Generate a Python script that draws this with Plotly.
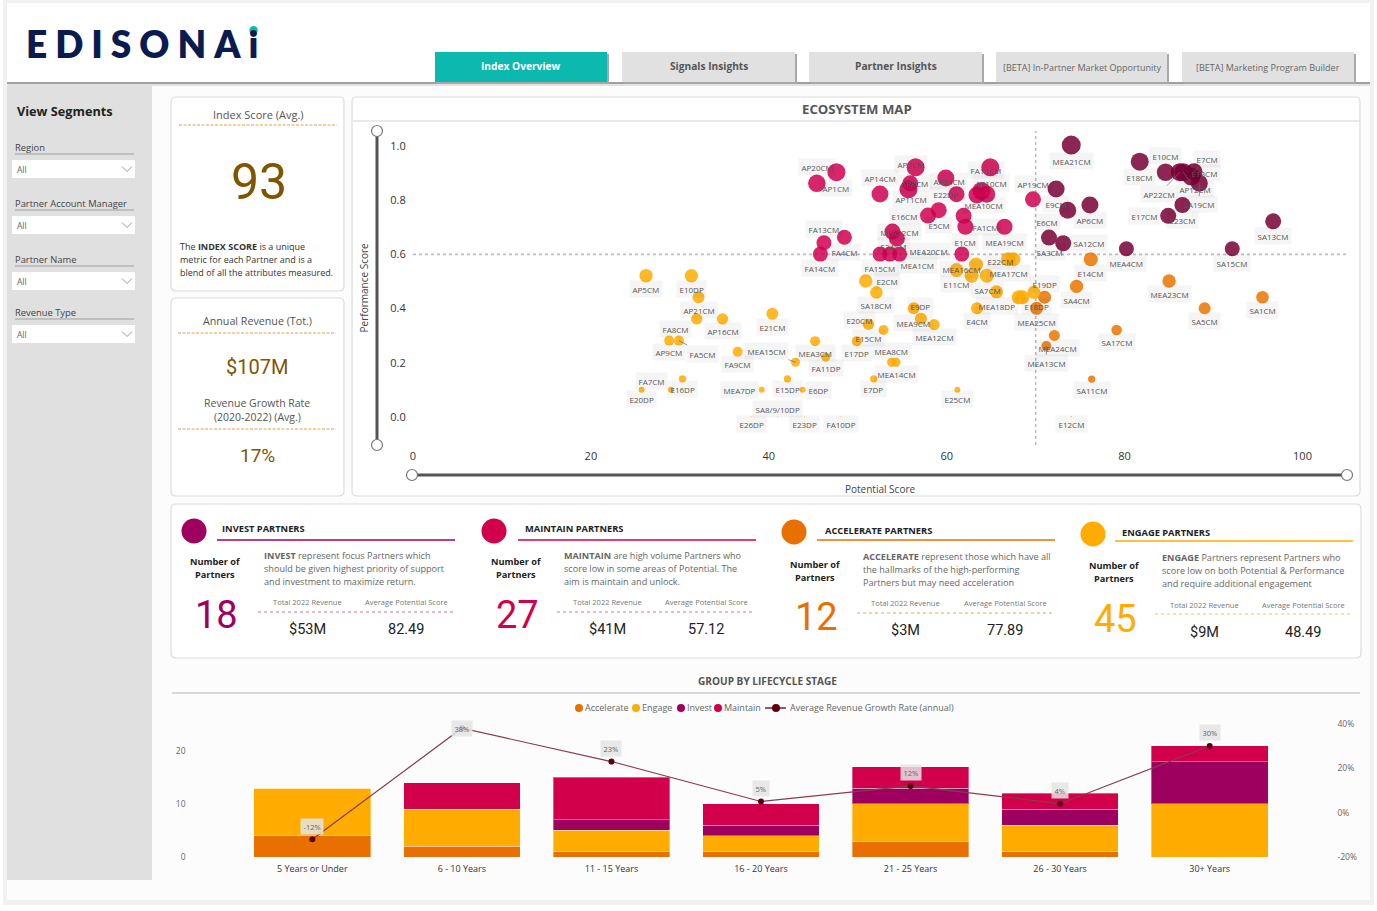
# %%
import plotly.graph_objects as go

W, H = 1377, 911

# %%
# Ecosystem map: name, potential score, performance score, bubble diameter
invest_names = ['MEA21CM', 'E18CM', 'E10CM', 'E7CM', 'E13CM', 'AP22CM', 'AP12CM', 'SA19CM', 'E23CM',
                'E17CM', 'E9CM', 'E6CM', 'AP6CM', 'SA3CM', 'SA12CM', 'MEA4CM', 'SA13CM', 'SA15CM']
invest_potential = [74.0, 81.7, 84.6, 87.8, 87.5, 86.2, 86.6, 88.4, 86.5,
                    84.9, 72.3, 73.6, 76.1, 71.5, 73.1, 80.2, 96.7, 92.1]
invest_performance = [1.003, 0.942, 0.903, 0.905, 0.887, 0.903, 0.903, 0.862, 0.782,
                      0.742, 0.841, 0.763, 0.782, 0.662, 0.641, 0.621, 0.722, 0.621]
invest_bubble = [19, 18, 17.5, 17, 18, 18, 18, 17, 16, 16, 17, 17, 17, 16, 16, 15, 16, 15]

maintain_names = ['AP20CM', 'AP1CM', 'AP14CM', 'FA13CM', 'FA4CM', 'FA14CM', 'FA15CM', 'AP7CM', 'AP8CM',
                  'AP11CM', 'AP24CM', 'E22DP', 'FA11CM', 'AP10CM', 'MEA10CM', '', 'AP19CM', 'E16CM',
                  'E5CM', 'FA1CM', 'E1CM', 'MEA19CM', 'MEA22CM', 'E24CM', 'MEA1CM', 'MEA20CM', '']
maintain_potential = [45.4, 47.6, 52.5, 46.2, 48.5, 45.8, 52.5, 56.5, 55.9,
                      55.7, 59.9, 61.1, 64.9, 64.5, 63.4, 63.9, 69.7, 57.9,
                      59.1, 61.9, 62.1, 66.5, 53.9, 54.4, 53.6, 54.7, 61.7]
maintain_performance = [0.862, 0.903, 0.823, 0.643, 0.663, 0.601, 0.601, 0.921, 0.862,
                        0.840, 0.882, 0.822, 0.921, 0.822, 0.819, 0.834, 0.803, 0.743,
                        0.763, 0.742, 0.702, 0.702, 0.684, 0.659, 0.601, 0.601, 0.601]
maintain_bubble = [17.5, 18, 17, 15, 15, 15, 15, 18, 16, 18, 17, 16, 18, 17, 17, 18, 16, 16,
                   16, 16, 16, 16, 16, 16, 15, 15, 15]

accelerate_names = ['E14CM', 'SA4CM', 'MEA23CM', 'SA5CM', 'SA1CM', 'SA17CM', 'E18DP', 'MEA25CM',
                    'MEA24CM', 'MEA13CM', 'SA11CM', 'E12CM']
accelerate_potential = [76.2, 74.6, 85.0, 89.0, 95.5, 79.1, 71.0, 70.1, 72.1, 71.2, 76.3, 74.0]
accelerate_performance = [0.582, 0.482, 0.502, 0.401, 0.442, 0.321, 0.442, 0.401, 0.301, 0.262, 0.140, 0.001]
accelerate_bubble = [14, 13.4, 13.4, 12, 12.6, 10.6, 13, 13, 11, 10, 7.4, 1]

engage_names = ['MEA17CM', 'E22CM', 'MEA16CM', 'E11CM', '', '', 'SA7CM', 'MEA18DP', '', 'E4CM', 'E19DP',
                'E9DP', 'MEA9CM', 'MEA12CM', 'E25CM', 'E10DP', 'AP5CM', 'AP21CM', 'FA8CM', 'AP16CM',
                'FA5CM', 'AP9CM', 'E21CM', 'FA9CM', 'MEA15CM', 'MEA3CM', 'FA11DP', 'E17DP', 'E20CM',
                'E15CM', 'SA18CM', 'E2CM', 'MEA8CM', 'MEA14CM', 'E7DP', 'E6DP', 'E15DP', 'MEA7DP',
                'E16DP', 'FA7CM', 'E20DP', 'SA8/9/10DP', 'E26DP', 'E23DP', 'FA10DP']
engage_potential = [66.9, 67.5, 63.3, 61.1, 62.8, 64.5, 65.6, 68.1, 68.5, 63.4, 69.8,
                    56.3, 57.1, 58.6, 61.2, 31.3, 26.2, 32.1, 31.9, 34.8,
                    29.9, 28.8, 40.4, 36.5, 43.0, 45.2, 46.4, 49.9, 51.2,
                    52.9, 52.1, 50.9, 53.8, 54.3, 51.8, 43.8, 42.1, 39.2,
                    30.3, 29.0, 25.7, 41.0, 38.0, 44.0, 48.1]
engage_performance = [0.582, 0.582, 0.563, 0.542, 0.521, 0.521, 0.462, 0.442, 0.442, 0.401, 0.460,
                      0.401, 0.363, 0.341, 0.101, 0.521, 0.521, 0.442, 0.362, 0.362,
                      0.282, 0.282, 0.381, 0.241, 0.202, 0.280, 0.221, 0.280, 0.342,
                      0.321, 0.460, 0.502, 0.202, 0.202, 0.141, 0.101, 0.141, 0.101,
                      0.141, 0.101, 0.101, 0.001, 0.001, 0.001, 0.001]
engage_bubble = [14, 14, 14, 14, 14, 14, 13, 14, 14, 12, 13,
                 12, 12, 11, 6, 13.4, 13.4, 12, 11.4, 11.4,
                 10, 10, 12, 10, 9, 10, 9, 10, 11.4,
                 10, 12.6, 13.4, 9, 9, 7.4, 6, 7.4, 6,
                 7.4, 6, 6, 1, 1, 1, 1]

# %%
# Lifecycle chart
stages = ['5 Years or Under', '6 - 10 Years', '11 - 15 Years', '16 - 20 Years',
          '21 - 25 Years', '26 - 30 Years', '30+ Years']
accelerate_count = [4, 2, 1, 1, 3, 1, 0]
engage_count = [9, 7, 4, 3, 7, 5, 10]
invest_count = [0, 0, 2, 2, 3, 3, 8]
maintain_count = [0, 5, 8, 4, 4, 3, 3]
growth_rate = [-12, 38, 23, 5, 12, 4, 30]

# %%
# Label placement in pixels from the bubble centre; anything missing sits under its bubble
label_offsets = {
    'AP20CM': (0, -16), 'E10CM': (0, -16), 'E7CM': (13, -13), 'E13CM': (13, -4), 'AP22CM': (-21, 22),
    'AP12CM': (12, 17), 'SA19CM': (0, 21), 'E17CM': (-24, 0), 'E6CM': (-21, 12), 'SA12CM': (26, 0),
    'AP14CM': (0, -16), 'FA13CM': (0, -14), 'AP7CM': (-5, -3), 'AP8CM': (5, 0), 'AP11CM': (3, 10),
    'AP24CM': (3, 3), 'E22DP': (-11, 0), 'FA11CM': (-4, 3), 'AP10CM': (4, -11), 'MEA10CM': (7, 10),
    'AP19CM': (0, -15), 'E16CM': (-24, 0), 'FA1CM': (22, 11), 'MEA22CM': (7, 0), 'E24CM': (-3, 8),
    'MEA20CM': (29, -3), 'MEA1CM': (28, 11), 'E18DP': (-8, 9), 'MEA24CM': (3, 13), 'MEA13CM': (0, 17),
    'E22CM': (-13, 2), 'MEA16CM': (-15, 5), 'SA7CM': (-9, -2), 'MEA18DP': (-22, 9), 'E19DP': (11, -8),
    'E9DP': (7, -2), 'MEA9CM': (-7, 4), 'FA8CM': (-21, 10), 'FA5CM': (24, 13), 'MEA15CM': (-29, -11),
    'E20CM': (-9, -4), 'E15CM': (-15, 8), 'E2CM': (21, 0), 'MEA8CM': (0, -11), 'E6DP': (16, 0),
    'MEA7DP': (-22, 0), 'FA7CM': (-19, -9), 'SA8/9/10DP': (0, -8),
}
leader_labels = ['E7CM', 'AP22CM', 'AP12CM', 'SA19CM', 'AP10CM', 'E24CM', 'MEA13CM', 'FA5CM', 'MEA15CM']

INVEST, MAINTAIN, ACCELERATE, ENGAGE = '#9e0060', '#d2004b', '#e87000', '#ffab00'
BROWN = '#7f5500'
FONT = 'Open Sans'
NARROW = 'Roboto'
SHORT_DASH = '3px,1.5px'

shapes = []
annotations = []


# %%
def px(x):
    return x / W


def py(y):
    return 1 - y / H


def rect(x0, y0, x1, y1, fill, line=None, lw=1):
    shapes.append(dict(type='rect', xref='paper', yref='paper', x0=px(x0), x1=px(x1), y0=py(y0), y1=py(y1),
                       fillcolor=fill, line=dict(color=line, width=lw) if line else dict(width=0), layer='below'))


def card(x0, y0, x1, y1, r=5):
    path = (f'M {px(x0 + r)} {py(y0)} L {px(x1 - r)} {py(y0)} Q {px(x1)} {py(y0)} {px(x1)} {py(y0 + r)} '
            f'L {px(x1)} {py(y1 - r)} Q {px(x1)} {py(y1)} {px(x1 - r)} {py(y1)} '
            f'L {px(x0 + r)} {py(y1)} Q {px(x0)} {py(y1)} {px(x0)} {py(y1 - r)} '
            f'L {px(x0)} {py(y0 + r)} Q {px(x0)} {py(y0)} {px(x0 + r)} {py(y0)} Z')
    shapes.append(dict(type='path', xref='paper', yref='paper', path=path, fillcolor='white',
                       line=dict(color='#dcdcdc', width=1.2), layer='below'))


def hline(x0, x1, y, color, lw=1, dash='solid'):
    shapes.append(dict(type='line', xref='paper', yref='paper', x0=px(x0), x1=px(x1), y0=py(y), y1=py(y),
                       line=dict(color=color, width=lw, dash=dash), layer='below'))


def circle(cx, cy, r, fill, line=None, lw=1, layer='below'):
    shapes.append(dict(type='circle', xref='paper', yref='paper', x0=px(cx - r), x1=px(cx + r),
                       y0=py(cy + r), y1=py(cy - r), fillcolor=fill,
                       line=dict(color=line, width=lw) if line else dict(width=0), layer=layer))


def txt(x, y, text, size=10, color='#555555', anchor='center', family=FONT, angle=0):
    # annotations sit a touch low, lift them slightly
    annotations.append(dict(xref='paper', yref='paper', x=px(x), y=py(y - 0.6), text=text, showarrow=False,
                            xanchor=anchor, yanchor='middle', textangle=angle,
                            font=dict(size=size, color=color, family=family)))


def chevron(x, y):
    path = f'M {px(x - 5)} {py(y - 2.5)} L {px(x)} {py(y + 2.5)} L {px(x + 5)} {py(y - 2.5)}'
    shapes.append(dict(type='path', xref='paper', yref='paper', path=path,
                       line=dict(color='#999999', width=1), layer='below'))


# %%
# Page, header and tabs
rect(3, 0, 1374, 905, '#f1f1f1')
rect(7, 3, 1370, 900, '#fcfcfc')
rect(7, 3, 1370, 82, 'white')
rect(7, 82, 1370, 84, '#a0a0a0')
rect(7, 84, 1370, 86, '#e2e2e2')
rect(7, 84, 152, 880, '#e0e0e0')

annotations.append(dict(xref='paper', yref='paper', x=px(24), y=py(43), showarrow=False, xanchor='left',
                        yanchor='middle',
                        text='<span style="letter-spacing:8px">EDISONAi</span>',
                        font=dict(size=37, color='#0b1a4f', family='Lato', weight=800)))

tabs = [(435, 607, 'Index Overview'), (622, 795, 'Signals Insights'), (809, 982, 'Partner Insights'),
        (996, 1167, '[BETA] In-Partner Market Opportunity'), (1182, 1354, '[BETA] Marketing Program Builder')]
for i, (x0, x1, label) in enumerate(tabs):
    rect(x0 + 2, 54, x1 + 2, 84, '#a8a8a8')
    rect(x0, 52, x1, 82, '#0bb9ae' if i == 0 else '#e1e1e1')
    if i < 3:
        txt((x0 + x1) / 2, 67, f'<b>{label}</b>', 10.2, 'white' if i == 0 else '#555555')
    else:
        txt((x0 + x1) / 2, 68, label, 9, '#666666')

# %%
# Sidebar
txt(15, 112, '<b>View Segments</b>', 12.7, '#222222', 'left')
for label, y in [('Region', 148), ('Partner Account Manager', 204), ('Partner Name', 260), ('Revenue Type', 313)]:
    txt(13, y, label, 9.4, '#444444', 'left')
    hline(15, 134, y + 6, '#b5b5b5', 1.6)
    rect(12, y + 12, 135, y + 30, 'white')
    txt(15, y + 22, 'All', 8.5, '#666666', 'left')
    chevron(127, y + 21)

# %%
# KPI cards
card(171, 97, 344, 291)
txt(258, 115, 'Index Score (Avg.)', 11)
hline(179, 337, 125, '#ee9a4d', 1, SHORT_DASH)
txt(259, 183, '93', 50, BROWN, family=NARROW)
txt(178, 247, 'The <b>INDEX SCORE</b> is a unique', 9, '#333333', 'left')
txt(178, 260, 'metric for each Partner and is a', 9, '#333333', 'left')
txt(178, 273, 'blend of all the attributes measured.', 9, '#333333', 'left')

card(171, 298, 344, 496)
txt(257, 322, 'Annual Revenue (Tot.)', 10.7)
hline(178, 336, 333, '#ee9a4d', 1, SHORT_DASH)
txt(257, 368, '$107M', 20, BROWN, family=NARROW)
txt(257, 404, 'Revenue Growth Rate', 10.5)
txt(257, 418, '(2020-2022) (Avg.)', 10.5)
hline(178, 336, 429, '#ee9a4d', 1, SHORT_DASH)
txt(257, 456, '17%', 19, BROWN, family=NARROW)

# %%
# Ecosystem map frame
card(352, 97, 1360, 496)
hline(353, 1360, 121, '#e2e2e2', 1.5)
txt(857, 110, '<b>ECOSYSTEM MAP</b>', 13.2)
shapes.append(dict(type='line', xref='x', yref='y', x0=0, x1=105, y0=0.6, y1=0.6,
                   line=dict(color='#bdbdbd', width=1.6, dash='dot'), layer='below'))
shapes.append(dict(type='line', xref='x', yref='y', x0=70, x1=70, y0=-0.103, y1=1.055,
                   line=dict(color='#bdbdbd', width=1.6, dash='dot'), layer='below'))
shapes.append(dict(type='line', xref='paper', yref='paper', x0=px(377), x1=px(377), y0=py(131), y1=py(445),
                   line=dict(color='#555555', width=3), layer='below'))
hline(412, 1347, 475, '#555555', 3)
for hx, hy in [(377, 131), (377, 445), (412, 475), (1347, 475)]:
    circle(hx, hy, 5.5, 'white', '#777777', 1.2)
txt(880, 490, 'Potential Score', 10, '#444444')
txt(364, 288, 'Performance Score', 10, '#444444', angle=-90)

# %%
# Segment summary cards
card(171, 504, 1361, 658)
segments = [
    dict(color=INVEST, cx=194, cy=531, title='INVEST PARTNERS', tx=220, ty=529, lx=217, ly=540,
         nx=215, ny=562, big='18', by=616, dx=262, dy=556, bold='INVEST',
         lines=[' represent focus Partners which', 'should be given highest priority of support',
                'and investment to maximize return.'],
         rx=307, ax=406, hy=603, dy2=612, x0=258, x1=455, vy=630, rev='$53M', pot='82.49', dash='#e070a0'),
    dict(color=MAINTAIN, cx=494, cy=531, title='MAINTAIN PARTNERS', tx=523, ty=529, lx=518, ly=540,
         nx=516, ny=562, big='27', by=616, dx=562, dy=556, bold='MAINTAIN',
         lines=[' are high volume Partners who', 'score low in some areas of Potential. The',
                'aim is maintain and unlock.'],
         rx=607, ax=706, hy=603, dy2=612, x0=557, x1=755, vy=630, rev='$41M', pot='57.12', dash='#ee6f98'),
    dict(color=ACCELERATE, cx=794, cy=532, title='ACCELERATE PARTNERS', tx=823, ty=531, lx=817, ly=540,
         nx=815, ny=565, big='12', by=618, dx=861, dy=557, bold='ACCELERATE',
         lines=[' represent those which have all', 'the hallmarks of the high-performing',
                'Partners but may need acceleration'],
         rx=906, ax=1005, hy=604, dy2=613, x0=857, x1=1054, vy=631, rev='$3M', pot='77.89', dash='#f0a050'),
    dict(color=ENGAGE, cx=1093, cy=534, title='ENGAGE PARTNERS', tx=1120, ty=533, lx=1115, ly=541,
         nx=1114, ny=566, big='45', by=620, dx=1160, dy=558, bold='ENGAGE',
         lines=[' Partners represent Partners who', 'score low on both Potential &amp; Performance',
                'and require additional engagement'],
         rx=1204, ax=1303, hy=606, dy2=614, x0=1155, x1=1351, vy=633, rev='$9M', pot='48.49', dash='#ffc04d'),
]
for s in segments:
    circle(s['cx'], s['cy'], 12.5, s['color'])
    txt(s['tx'], s['ty'], f"<b>{s['title']}</b>", 9.3, '#222222', 'left')
    hline(s['lx'], s['lx'] + 238, s['ly'], s['color'], 1.5)
    txt(s['nx'], s['ny'], '<b>Number of</b>', 9.2, '#222222')
    txt(s['nx'], s['ny'] + 13, '<b>Partners</b>', 9.2, '#222222')
    txt(s['dx'], s['dy'], f"<b>{s['bold']}</b>{s['lines'][0]}", 9.1, '#666666', 'left')
    txt(s['dx'], s['dy'] + 13, s['lines'][1], 9.1, '#666666', 'left')
    txt(s['dx'], s['dy'] + 26, s['lines'][2], 9.1, '#666666', 'left')
    txt(s['nx'] + 1, s['by'], s['big'], 38, s['color'], family=NARROW)
    txt(s['rx'], s['hy'], 'Total 2022 Revenue', 7.5, '#777777')
    txt(s['ax'], s['hy'], 'Average Potential Score', 7.5, '#777777')
    hline(s['x0'], s['x1'], s['dy2'], s['dash'], 1.2, 'dot')
    txt(s['rx'], s['vy'], s['rev'], 14.5, '#222222', family=NARROW)
    txt(s['ax'], s['vy'], s['pot'], 14.5, '#222222', family=NARROW)

# %%
# Lifecycle heading and hand drawn legend with round markers
txt(767, 682, '<b>GROUP BY LIFECYCLE STAGE</b>', 10.1, '#555555')
hline(172, 1360, 693, '#cccccc', 1.5)
for cx, label, color in [(579, 'Accelerate', ACCELERATE), (636, 'Engage', ENGAGE),
                         (681, 'Invest', INVEST), (718, 'Maintain', MAINTAIN)]:
    circle(cx, 708, 4, color)
    txt(cx + 4, 708, label, 9, '#666666', 'left')
hline(765, 786, 708, '#5e0010', 1.3)
circle(776, 708, 4, '#5e0010')
txt(788, 708, 'Average Revenue Growth Rate (annual)', 9, '#666666', 'left')

# %%
fig = go.Figure()

scatter_groups = [
    ('Accelerate', accelerate_names, accelerate_potential, accelerate_performance, accelerate_bubble, '#eb7600'),
    ('Engage', engage_names, engage_potential, engage_performance, engage_bubble, ENGAGE),
    ('Maintain', maintain_names, maintain_potential, maintain_performance, maintain_bubble, '#d10050'),
    ('Invest', invest_names, invest_potential, invest_performance, invest_bubble, '#780035'),
]
for group, names, potential, performance, bubble, color in scatter_groups:
    fig.add_trace(go.Scatter(
        name=group, x=potential, y=performance, mode='markers', text=names, xaxis='x', yaxis='y',
        marker=dict(size=bubble, sizemode='diameter', color=color, opacity=0.85, line=dict(width=0)),
        showlegend=False
    ))
    for name, xv, yv, d in zip(names, potential, performance, bubble):
        if not name:
            continue
        dx, dy = label_offsets.get(name, (0, d / 2 + 6.8))
        label = dict(xref='x', yref='y', x=xv, y=yv, text=name, bgcolor='rgba(0,0,0,0.04)', borderpad=2.5,
                     font=dict(size=8, color='#555555', family=FONT))
        if name in leader_labels:
            label.update(showarrow=True, ax=dx, ay=dy, arrowhead=0, arrowwidth=0.7, arrowcolor='#666666')
        else:
            label.update(showarrow=False, xshift=dx, yshift=-dy)
        annotations.append(label)

for group, values, color in [('Accelerate', accelerate_count, ACCELERATE), ('Engage', engage_count, ENGAGE),
                             ('Invest', invest_count, INVEST), ('Maintain', maintain_count, MAINTAIN)]:
    fig.add_trace(go.Bar(
        name=group, x=stages, y=values, xaxis='x2', yaxis='y2', marker=dict(
            color=color, line=dict(color='rgba(255,255,255,0.35)', width=1)),
        showlegend=False
    ))

fig.add_trace(go.Scatter(
    name='Average Revenue Growth Rate (annual)', x=stages, y=growth_rate, mode='lines+markers',
    xaxis='x2', yaxis='y3', line=dict(color='#8a3b4b', width=1.2),
    marker=dict(color='#5e0010', size=6), showlegend=False
))

for stage, rate in zip(stages, growth_rate):
    annotations.append(dict(xref='x2', yref='y3', x=stage, y=rate, text=f'{rate}%', showarrow=False,
                            yshift=0 if rate == 38 else 13, bgcolor='rgba(228,228,228,0.85)', borderpad=2.5,
                            font=dict(size=7.5, color='#666666', family=FONT)))

# %%
tick_font = dict(size=11, color='#333333', family=FONT)
small_font = dict(size=8.5, color='#666666', family=FONT)

circle(253.6, 30.3, 4.2, '#12b5ad', layer='above')

fig.update_layout(
    width=W, height=H, autosize=False,
    margin=dict(l=0, r=0, t=0, b=0, autoexpand=False),
    paper_bgcolor='white', plot_bgcolor='rgba(0,0,0,0)',
    barmode='stack', bargap=0.22,
    font=dict(family=FONT),
    shapes=shapes, annotations=annotations,
    xaxis=dict(domain=[px(413), px(1347)], range=[0, 105], dtick=20, showgrid=False, zeroline=False,
               showline=False, tickfont=tick_font, anchor='y', ticks='outside', ticklen=1,
               tickcolor='rgba(0,0,0,0)', automargin=False),
    yaxis=dict(domain=[py(445), py(131)], range=[-0.103, 1.055], dtick=0.2, tickformat='.1f', showgrid=False,
               zeroline=False, showline=False, tickfont=tick_font, anchor='x', ticks='outside', ticklen=4,
               tickcolor='rgba(0,0,0,0)', automargin=False),
    xaxis2=dict(domain=[px(237.5), px(1284.5)], showgrid=False, zeroline=False, showline=False, anchor='y2',
                tickfont=dict(size=9, color='#333333', family=FONT), ticks='outside', ticklen=3,
                tickcolor='rgba(0,0,0,0)', automargin=False),
    yaxis2=dict(domain=[py(857), py(717)], range=[0, 26.4], tickvals=[0, 10, 20], showgrid=False,
                zeroline=False, showline=False, tickfont=small_font, anchor='x2', ticklabelstandoff=51,
                automargin=False),
    yaxis3=dict(domain=[py(857), py(717)], range=[-20, 43.06], tickvals=[-20, 0, 20, 40],
                ticktext=['-20%', '0%', '20%', '40%'],
                showgrid=False, zeroline=False, showline=False, tickfont=small_font, anchor='x2',
                overlaying='y2', side='right', ticklabelstandoff=52, automargin=False),
)

fig.write_html('out.html', config=dict(displayModeBar=False),
               post_script="document.body.style.margin='0';document.body.style.overflow='hidden';")
